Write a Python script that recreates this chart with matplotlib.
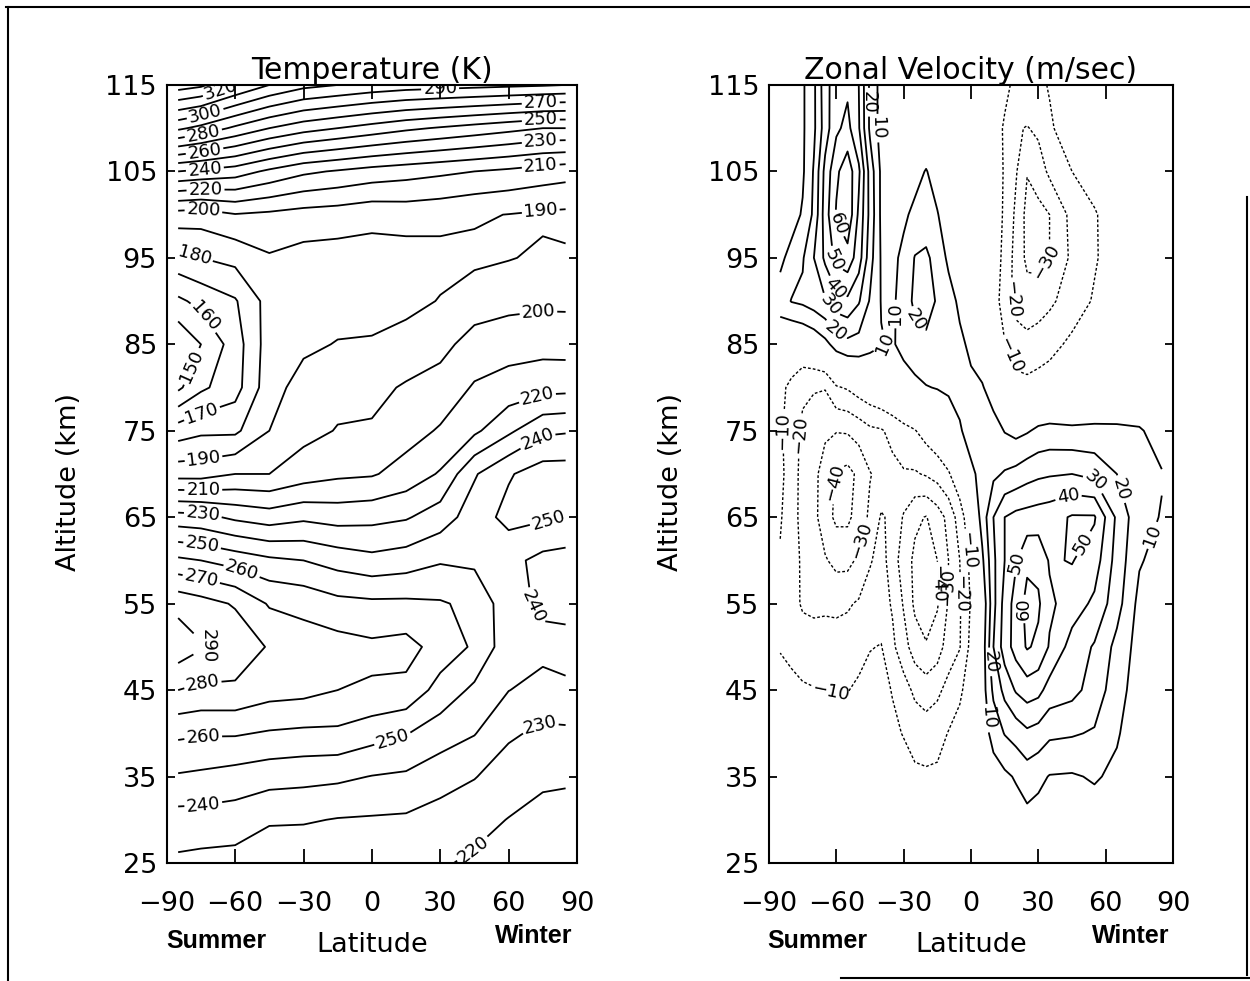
import numpy as np
import matplotlib.pyplot as plt
from matplotlib.lines import Line2D

plt.rcParams['font.family'] = 'DejaVu Sans'

# altitude rows (km), shared by both panels
altitude = [25, 30, 35, 40, 45, 50, 55, 60, 65, 70, 75, 80, 85, 90, 95, 100, 105, 110, 115]

# ---- temperature (K) ----
temp_lat = [-85, -75, -60, -45, -30, -15, 0, 15, 30, 45, 60, 75, 85]
t_025 = [228, 227, 226.5, 224, 222, 222, 223, 222, 221, 218.5, 213, 212.5, 212]
t_030 = [236, 236, 235, 231, 231, 229.5, 229, 228.5, 226, 223, 219.7, 216.5, 216]
t_035 = [249, 248, 246, 244, 243, 242, 239.7, 238.5, 234, 230.5, 225, 222, 221.5]
t_040 = [262, 261, 261, 259, 258, 258, 254, 250.5, 245, 240.5, 231.5, 228, 228]
t_045 = [280, 278, 278, 274, 273, 270, 269, 267.5, 256, 248, 240.2, 236.5, 238.5]
t_050 = [296, 291, 287, 279, 275, 274, 272, 273.5, 266, 258.5, 244, 243, 243]
t_055 = [287, 284, 279, 269, 267, 263, 262, 262, 261, 257.5, 244, 238, 237.2]
t_060 = [262, 260, 256, 252, 250, 246, 243, 245, 249, 248, 243, 237, 236]
t_065 = [234, 233, 228, 225, 228, 226, 227, 229, 235, 245, 253, 251.5, 249.5]
t_070 = [196, 196, 200, 200, 205, 208, 209, 214, 221, 239, 249, 255, 255]
t_075 = [175, 178, 178, 190, 197, 200.5, 201, 206, 211, 218, 228, 238, 239]
t_080 = [148, 158, 166, 186, 194, 197, 197.5, 201, 204, 211, 214, 216.5, 217]
t_085 = [141, 150, 165, 185, 188, 190.5, 191, 194, 197, 204, 206, 206.5, 206]
t_090 = [158, 163, 169, 184, 185, 186, 186, 187, 190.5, 195, 197, 198, 198]
t_095 = [177, 180, 183, 189, 186.5, 186, 186, 186, 187, 188, 189.5, 191.5, 191]
t_100 = [196, 195, 199.5, 198, 196, 195, 193, 194, 193, 191, 189.8, 188.5, 188]
t_105 = [240, 238, 235, 228, 222, 219, 216, 214, 212, 210, 208, 205.5, 204]
t_110 = [292, 287, 278, 270, 264, 260, 256, 252, 249, 246, 243, 240, 240]
t_115 = [335, 332, 320, 310, 303, 300, 297, 295, 294, 293, 292, 291, 290]

# ---- zonal velocity (m/s) ----
u_lat = [-85, -80, -75, -70, -65, -60, -55, -50, -45, -40, -35, -30, -25, -20, -15,
         -10, -5, 0, 5, 10, 15, 20, 25, 30, 35, 45, 55, 65, 75, 85]
u_025 = [0, 0, 0, -0.5, -0.5, -0.5, -0.5, -0.5, -0.5, -0.5, -1, -1, -1.5, -2, -2, -1, -1, 0, 0, 1, 1.5, 2, 3, 3, 2.5, 2, 2.5, 2, 1, 0]
u_030 = [0, -1, -1, -1.5, -1.5, -1.5, -1.5, -1.5, -1, -1.5, -2, -3, -4, -4.5, -4, -3, -2, 0, 1, 2, 3.5, 5, 7, 6, 5, 4.5, 5.5, 4, 2, 1]
u_035 = [-1, -2, -3, -3, -3, -3, -3, -3, -2.5, -3, -4, -6, -8, -8.5, -8, -6, -4, -1, 2, 5, 8, 11, 15, 12.5, 9.5, 9, 11, 8, 3, 1]
u_040 = [-3, -4, -5, -5.5, -5.5, -6, -6, -5, -4, -5, -8, -10.5, -14, -15, -14, -9.5, -6, -2, 4, 14, 20.5, 24, 28, 26, 22, 21, 19, 11, 4, 2]
u_045 = [-7, -8, -8.5, -9.5, -9.8, -10.6, -10.4, -8, -6, -7, -10.5, -16, -22, -25, -22, -17, -12, -4, 5, 22, 33, 41, 45, 43, 36, 33, 26, 14, 5, 2]
u_050 = [-10.5, -12, -16, -16, -15, -16, -16, -14, -10.5, -9.5, -18, -26, -35, -39, -35, -25, -20.5, -7, 4, 30, 45, 54, 61, 58, 49, 36, 29, 17, 6, 3]
u_055 = [-11, -17, -21, -22, -22, -22, -21, -19, -15, -16, -21, -31, -42, -46, -41, -29, -21, -9, 2, 27, 44, 54, 63, 61.5, 52, 45, 38, 24, 7, 3]
u_060 = [-11, -16, -21.5, -25, -29, -33, -33, -28, -21, -16, -25, -35, -42, -45, -40, -30, -20, -7, 8, 28, 40, 49, 58, 57, 49, 50.5, 45, 26, 11, 6]
u_065 = [-9, -16, -23, -27, -36, -42, -42, -36, -28, -19, -22, -31, -38, -40.5, -35, -27, -15, -2, 14, 30, 40, 43, 44, 45, 46, 51, 51, 28, 13, 9.5]
u_070 = [-8, -14, -24, -27, -35, -41, -43, -38, -30.5, -27, -23, -21, -21, -19, -16, -11, -3, 8, 13, 18, 21, 23, 26, 28, 29, 30, 27, 20, 14, 10.5]
u_075 = [-8.5, -15, -22, -26, -28, -29.5, -29, -26, -22, -21, -17, -13, -10.5, -6, -2, 2, 9, 14, 16, 15, 9.5, 7, 9, 12, 13, 12, 12.5, 12, 11, 6]
u_080 = [-8, -12, -18, -19, -19.5, -11, -9, -5, -2, 1, 3, 5, 7, 9.5, 10.5, 12, 13, 12, 11, 4, -3, -6, -7, -6, -5, -4, -3, -1, 0, 0]
u_085 = [3, -3, -1, 2, 7, 14, 17, 16, 13, 10.5, 9, 13, 17, 18, 16, 14, 12, 8, 2, -4, -9.5, -16, -17, -15, -13, -8, -4, -2, -1, 0]
u_090 = [14, 20.5, 22, 25, 29, 36, 38, 31, 19, 9.5, 8, 15, 22, 24, 19, 14, 8, 3, -1, -5, -15, -23, -26, -25, -22, -15, -9, -4, -1, 0]
u_095 = [8, 13, 19, 30, 42, 53, 56, 45, 24, 9, 8, 12, 20.5, 22, 16, 8, 3, -1, -3, -6, -12, -24, -32, -33, -30, -18, -11, -5, -1, 0]
u_100 = [3, 6, 11, 22, 45, 61, 68, 48, 27, 8, 5, 8.5, 12, 14, 10.5, 5, 1, -2, -4, -6, -11, -22, -33, -33, -30, -17, -11, -4, -1, 0]
u_105 = [2, 4, 8.5, 21, 43, 58, 66, 52, 26, 8, 4, 5, 7, 10.5, 6, 2, 0, -2, -4, -7, -10.5, -19, -29.5, -25, -18, -10, -5, -2, 0, 0]
u_110 = [2, 5, 8.5, 18, 35, 48, 53, 41, 18, 6, 3.5, 3, 2.5, 2, 1, 0, -2, -4, -6, -8, -10.5, -19, -20.5, -18, -11, -6, -3, -1, 0, 0]
u_115 = [3, 6, 8.5, 18, 36, 46, 48, 40, 18, 6, 4, 3, 3, 2, 1, 0, -1, -3, -5, -7, -9, -11, -12, -11.5, -9.5, -6, -3, -1, 0, 0]

temp = np.array([t_025, t_030, t_035, t_040, t_045, t_050, t_055, t_060, t_065, t_070,
                 t_075, t_080, t_085, t_090, t_095, t_100, t_105, t_110, t_115])
uwind = np.array([u_025, u_030, u_035, u_040, u_045, u_050, u_055, u_060, u_065, u_070,
                  u_075, u_080, u_085, u_090, u_095, u_100, u_105, u_110, u_115])

temp_levels = list(range(140, 341, 10))
wind_levels = [-40, -30, -20, -10, 10, 20, 30, 40, 50, 60]

# where the original puts its contour labels: (level, lat, alt)
temp_label_at = [(320, -64, 112.5), (300, -72, 110.5), (280, -73.5, 108.8), (260, -73, 106.6),
                 (240, -73, 104.4), (220, -73, 102.5), (200, -74, 100.3), (180, -76.5, 96.5),
                 (160, -72, 88.5), (150, -75.5, 82), (170, -74, 76.5), (190, -74, 72),
                 (210, -74, 68.5), (230, -74, 65.6), (250, -74, 62.5), (270, -74, 58.9),
                 (260, -57, 58.9), (290, -71, 50.4), (280, -74, 44.9), (260, -74, 39.1),
                 (250, 9.5, 38.9), (240, -74, 31.8), (220, 44, 26.7), (230, 73.8, 41),
                 (240, 68, 54.1), (250, 78, 64), (240, 74, 73.3), (220, 72.5, 79),
                 (200, 73, 88.9), (190, 74, 100.7), (210, 74, 105.9), (230, 74, 108.8),
                 (250, 74, 111.5), (270, 74, 113.5), (290, 30, 114)]
wind_label_at = [(20, -46, 113), (10, -43, 110), (60, -59, 99), (50, -59, 95), (40, -59, 91.6),
                 (30, -62, 89.7), (20, -61, 86.4), (10, -37.7, 85.1), (10, -34, 88.5),
                 (20, -22.8, 88.3), (-10, 17.2, 83.7), (-20, 17.2, 90.2), (-30, 33.5, 94.5),
                 (-10, -84, 75), (-20, -76, 74.5), (-40, -59.8, 69), (-30, -51.6, 62.5),
                 (-10, -61.6, 45.2), (-40, -15.5, 57.3), (-30, -8.1, 56.9), (-20, -3, 56.1),
                 (-10, -3.7, 61.1), (60, 24.4, 54.4), (50, 21.5, 59.7), (20, 10.4, 48.3),
                 (10, 5.2, 41.7), (40, 43.8, 67.1), (50, 46.8, 62.5), (30, 54.2, 69),
                 (20, 63.8, 68), (10, 80.8, 62.9)]


def label_text(v):
    return f'{v:.0f}'.replace('-', '\u2212')


def draw_levels(ax, lat, field, levels, label_at):
    # one contour set per level, so each label lands on its own line
    for lev in levels:
        if lev < 0:
            style = dict(colors='k', linewidths=1.0, linestyles=[(0, (2, 1.5))])
        else:
            style = dict(colors='k', linewidths=1.3, linestyles='solid')
        c = ax.contour(lat, altitude, field, levels=[lev], **style)
        spots = [(x, y) for l, x, y in label_at if l == lev]
        if spots and len(c.allsegs[0]) > 0:
            ax.clabel(c, manual=spots, fmt=label_text, fontsize=13, inline=True, inline_spacing=3)


fig = plt.figure(figsize=(12.5, 9.81), dpi=100)
ax1 = fig.add_axes([0.1334, 0.1203, 0.3282, 0.7931])
ax2 = fig.add_axes([0.6152, 0.1203, 0.3232, 0.7931])

draw_levels(ax1, temp_lat, temp, temp_levels, temp_label_at)
draw_levels(ax2, u_lat, uwind, wind_levels, wind_label_at)

for ax, title, ylab_x in ((ax1, 'Temperature (K)', -0.206), (ax2, 'Zonal Velocity (m/sec)', -0.21)):
    ax.set_xlim(-90, 90)
    ax.set_ylim(25, 115)
    ax.set_xticks([-90, -60, -30, 0, 30, 60, 90])
    ax.set_yticks([25, 35, 45, 55, 65, 75, 85, 95, 105, 115])
    ax.tick_params(direction='in', top=True, right=True, labelsize=19.5,
                   width=1.3, color='k')
    ax.tick_params(axis='x', length=10, pad=20)
    ax.tick_params(axis='y', length=6, pad=7)
    for sp in ax.spines.values():
        sp.set_linewidth(1.5)
    ax.set_title(title, fontsize=21.5, pad=4)
    ax.set_ylabel('Altitude (km)', fontsize=19.5)
    ax.yaxis.set_label_coords(ylab_x, 0.49)
    ax.set_xlabel('Latitude', fontsize=19.5, labelpad=11)
    ax.text(0.12, -0.1, 'Summer', transform=ax.transAxes, ha='center', va='center',
            fontsize=18, fontweight='bold', family=['Liberation Sans Narrow', 'Liberation Sans'])
    ax.text(0.895, -0.094, 'Winter', transform=ax.transAxes, ha='center', va='center',
            fontsize=18, fontweight='bold', family=['Liberation Sans Narrow', 'Liberation Sans'])

# page border of the scanned figure
for xs, ys in (([0.005, 1.0], [0.9929, 0.9929]),
               ([0.006, 0.006], [0.0, 0.9929]),
               ([0.9972, 0.9972], [0.006, 0.799]),
               ([0.673, 1.0], [0.003, 0.003])):
    fig.add_artist(Line2D(xs, ys, transform=fig.transFigure, color='k', lw=1.5))

fig.savefig('out.png', dpi=100)
